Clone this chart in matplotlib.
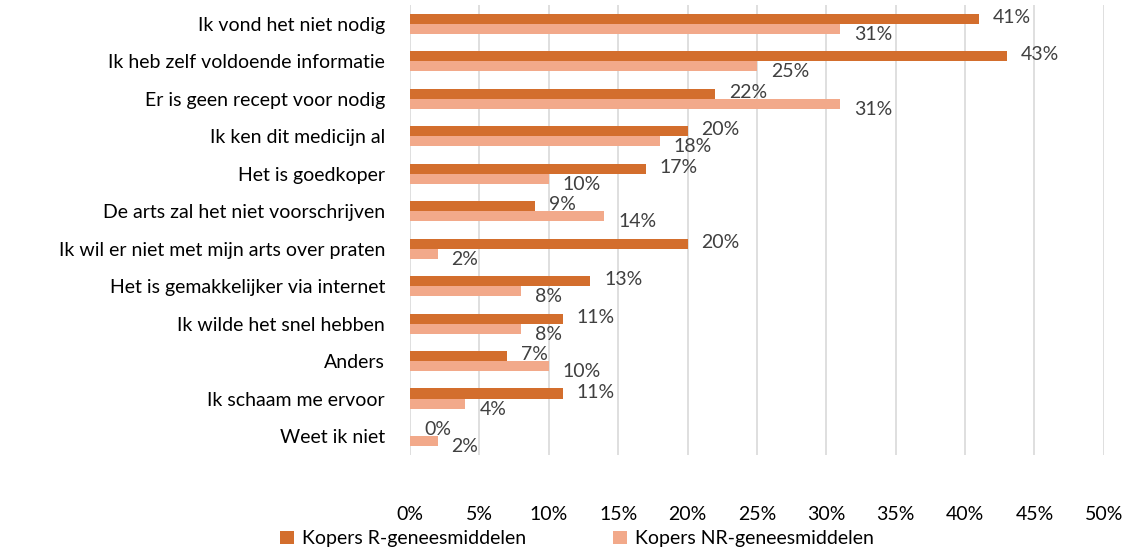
import numpy as np
import matplotlib.pyplot as plt
from matplotlib.ticker import FuncFormatter

plt.rcParams['font.family'] = ['Lato', 'DejaVu Sans']

categories = [
    "Ik vond het niet nodig",
    "Ik heb zelf voldoende informatie",
    "Er is geen recept voor nodig",
    "Ik ken dit medicijn al",
    "Het is goedkoper",
    "De arts zal het niet voorschrijven",
    "Ik wil er niet met mijn arts over praten",
    "Het is gemakkelijker via internet",
    "Ik wilde het snel hebben",
    "Anders",
    "Ik schaam me ervoor",
    "Weet ik niet",
]
kopers_r = [41, 43, 22, 20, 17, 9, 20, 13, 11, 7, 11, 0]
kopers_nr = [31, 25, 31, 18, 10, 14, 2, 8, 8, 10, 4, 2]
labels = ["Kopers R-geneesmiddelen", "Kopers NR-geneesmiddelen"]

kleur_r = '#D36E2D'
kleur_nr = '#F2A98A'
tekst = '#404040'

fig = plt.figure(figsize=(11.31, 5.52), dpi=100)
ax = fig.add_axes([0.3625, 0.176, 0.6135, 0.815])

y = np.arange(len(categories))
h = 0.27
ax.barh(y - h / 2, kopers_r, height=h, color=kleur_r, label=labels[0], zorder=3)
ax.barh(y + h / 2, kopers_nr, height=h, color=kleur_nr, label=labels[1], zorder=3)

# labels naast de balken
for i, (a, b) in enumerate(zip(kopers_r, kopers_nr)):
    ax.annotate(f"{a}%", (a, i - h / 2), xytext=(10, 1), textcoords='offset points',
                va='center', ha='left', fontsize=14, color=tekst)
    ax.annotate(f"{b}%", (b, i + h / 2), xytext=(10, -4), textcoords='offset points',
                va='center', ha='left', fontsize=14, color=tekst)

ax.set_xlim(0, 50)
ax.set_ylim(len(categories) - 0.5, -0.5)
ax.set_xticks(np.arange(0, 51, 5))
ax.xaxis.set_major_formatter(FuncFormatter(lambda v, p: f"{int(v)}%"))
ax.set_yticks(y)
ax.set_yticklabels(categories)
ax.tick_params(axis='both', length=0, labelsize=14, colors='black')
ax.tick_params(axis='x', pad=37)
ax.tick_params(axis='y', pad=18)
ax.grid(axis='x', color='#D9D9D9', linewidth=1.2, zorder=0)
for s in ax.spines.values():
    s.set_visible(False)

fig.legend(loc='center', bbox_to_anchor=(0.51, 0.024), ncol=2, frameon=False,
           fontsize=14, handlelength=0.7, handleheight=0.7, columnspacing=4.5,
           handletextpad=0.4)

fig.savefig('out.png', dpi=100)
